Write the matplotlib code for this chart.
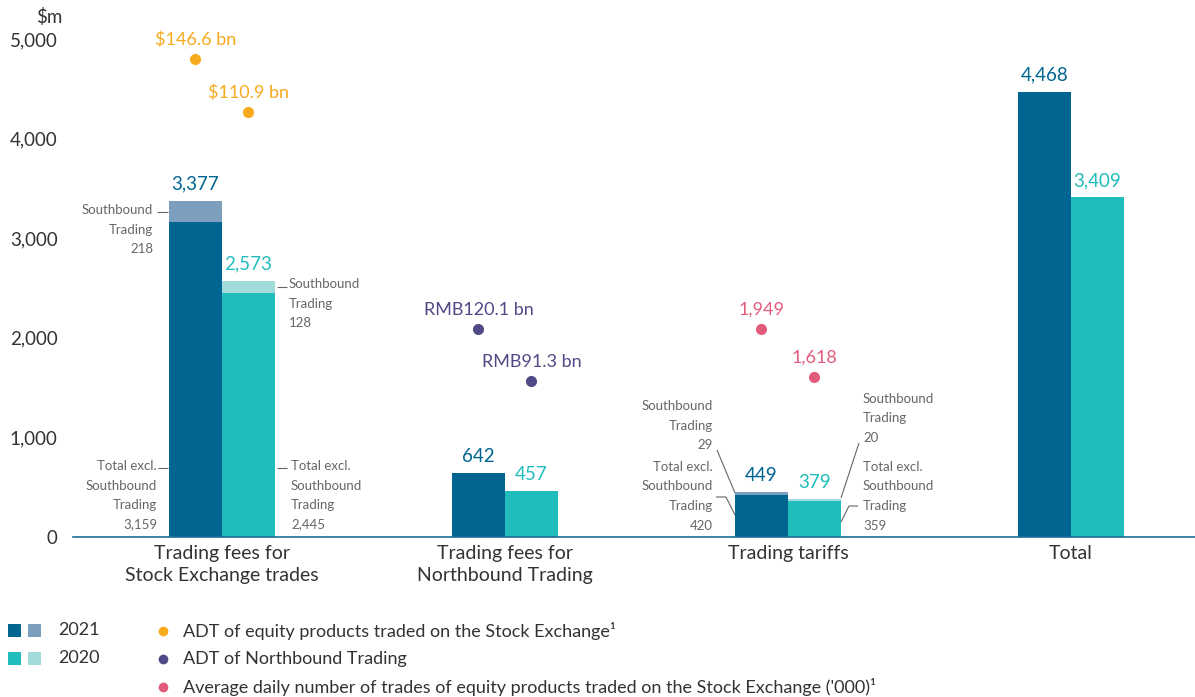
import matplotlib
matplotlib.use('Agg')
import matplotlib.pyplot as plt
from matplotlib import font_manager

# ---- data ----
categories = ['Trading fees for\nStock Exchange trades', 'Trading fees for\nNorthbound Trading',
              'Trading tariffs', 'Total']
base_2021 = [3159, 642, 420, 4468]
south_2021 = [218, 0, 29, 0]
base_2020 = [2445, 457, 359, 3409]
south_2020 = [128, 0, 20, 0]
total_2021 = ['3,377', '642', '449', '4,468']
total_2020 = ['2,573', '457', '379', '3,409']

dot_labels_2021 = ['$146.6 bn', 'RMB120.1 bn', '1,949']
dot_labels_2020 = ['$110.9 bn', 'RMB91.3 bn', '1,618']
dot_height_2021 = [4800, 2090, 2090]
dot_height_2020 = [4265, 1565, 1610]

legend_dots = ['ADT of equity products traded on the Stock Exchange\u00b9',
               'ADT of Northbound Trading',
               "Average daily number of trades of equity products traded on the Stock Exchange ('000)\u00b9"]

yticks = [0, 1000, 2000, 3000, 4000, 5000]

# ---- style ----
names = {f.name for f in font_manager.fontManager.ttflist}
main_font = 'Lato' if 'Lato' in names else 'DejaVu Sans'
narrow_font = 'Liberation Sans Narrow' if 'Liberation Sans Narrow' in names else main_font
plt.rcParams['font.family'] = [main_font, 'DejaVu Sans']

c21 = '#006591'
c21l = '#7c9fbd'
c20 = '#21bdbc'
c20l = '#a3dbdb'
dot_cols = ['#f6aa1c', '#4f4a85', '#e25b7b']
grey = '#666666'
txt = '#333333'

W, H = 1195, 697
fig = plt.figure(figsize=(W / 100, H / 100), dpi=100)
px_per_unit = 0.0996
ytop = 5300
ax = fig.add_axes([73 / W, 160 / H, (1195 - 73) / W, ytop * px_per_unit / H])
ax.set_ylim(0, ytop)
ax.set_xlim(-0.5265, -0.5265 + (1195 - 73) / 283)
bw = 53 / 283

x = list(range(len(categories)))
x21 = [i - bw / 2 for i in x]
x20 = [i + bw / 2 for i in x]
ax.bar(x21, base_2021, bw, color=c21, linewidth=0)
ax.bar(x21, south_2021, bw, bottom=base_2021, color=c21l, linewidth=0)
ax.bar(x20, base_2020, bw, color=c20, linewidth=0)
ax.bar(x20, south_2020, bw, bottom=base_2020, color=c20l, linewidth=0)

for i in x:
    t21 = base_2021[i] + south_2021[i]
    t20 = base_2020[i] + south_2020[i]
    ax.annotate(total_2021[i], (x21[i], t21), xytext=(0, 6), textcoords='offset points',
                ha='center', va='bottom', color=c21, fontsize=13.5)
    ax.annotate(total_2020[i], (x20[i], t20), xytext=(0, 6), textcoords='offset points',
                ha='center', va='bottom', color=c20, fontsize=13.5)

# dots above the bars
for i in range(3):
    ax.plot(x21[i], dot_height_2021[i], 'o', color=dot_cols[i], ms=8, mec='none')
    ax.plot(x20[i], dot_height_2020[i], 'o', color=dot_cols[i], ms=8, mec='none')
    ax.annotate(dot_labels_2021[i], (x21[i], dot_height_2021[i]), xytext=(0, 8),
                textcoords='offset points', ha='center', va='bottom', color=dot_cols[i], fontsize=13)
    ax.annotate(dot_labels_2020[i], (x20[i], dot_height_2020[i]), xytext=(0, 8),
                textcoords='offset points', ha='center', va='bottom', color=dot_cols[i], fontsize=13)

# small grey annotations (positioned in pixels)
def fx(px):
    return -0.5265 + (px - 73) / 283

def fy(py):
    return (537 - py) / px_per_unit

def note(px, py, s, ha):
    ax.text(fx(px), fy(py), s, ha=ha, va='top', fontsize=9.5, color=grey,
            family=narrow_font, linespacing=1.75, multialignment=ha)

def lead(pts):
    ax.plot([fx(p[0]) for p in pts], [fy(p[1]) for p in pts], color=grey, lw=0.8,
            solid_capstyle='butt')

note(153, 204, 'Southbound\nTrading\n%d' % south_2021[0], 'right')
lead([(157, 212), (168, 212)])
note(157, 460, 'Total excl.\nSouthbound\nTrading\n{:,}'.format(base_2021[0]), 'right')
lead([(158, 468), (168, 468)])
note(289, 278, 'Southbound\nTrading\n%d' % south_2020[0], 'left')
lead([(277, 287), (287, 287)])
note(291, 460, 'Total excl.\nSouthbound\nTrading\n{:,}'.format(base_2020[0]), 'left')
lead([(277, 468), (287, 468)])

note(713, 400, 'Southbound\nTrading\n%d' % south_2021[2], 'right')
lead([(717, 450), (735, 493)])
note(713, 461, 'Total excl.\nSouthbound\nTrading\n%d' % base_2021[2], 'right')
lead([(716, 497), (726, 497), (735, 515)])
note(863, 393, 'Southbound\nTrading\n%d' % south_2020[2], 'left')
lead([(859, 443), (841, 498)])
note(863, 461, 'Total excl.\nSouthbound\nTrading\n%d' % base_2020[2], 'left')
lead([(858, 506), (849, 506), (841, 522)])

# axes cosmetics
for s in ['top', 'right', 'left']:
    ax.spines[s].set_visible(False)
ax.spines['bottom'].set_color('#1a6e96')
ax.spines['bottom'].set_linewidth(1.2)
ax.set_yticks(yticks)
ax.set_yticklabels(['{:,}'.format(v) for v in yticks], fontsize=13.5, color=txt)
ax.tick_params(axis='y', length=0, pad=11)
ax.set_xticks(x)
ax.set_xticklabels(categories, fontsize=14, color=txt, linespacing=1.35)
ax.tick_params(axis='x', length=0, pad=6)
fig.text(62 / W, 1 - 17 / H, '$m', ha='right', va='center', fontsize=13.5, color=txt)

# legend
sq = 13
for row, (cd, cl, lab) in enumerate([(c21, c21l, '2021'), (c20, c20l, '2020')]):
    yc = 630 + row * 28
    for x0, c in [(8, cd), (28, cl)]:
        fig.patches.append(plt.Rectangle((x0 / W, 1 - (yc + sq / 2) / H), sq / W, sq / H,
                                         transform=fig.transFigure, color=c, lw=0))
    fig.text(58 / W, 1 - yc / H, lab, ha='left', va='center', fontsize=13, color=txt)

for row, lab in enumerate(legend_dots):
    yc = 631 + row * 28
    fig.lines.append(plt.Line2D([163 / W], [1 - yc / H], marker='o', ms=7, color=dot_cols[row],
                                mec='none', transform=fig.transFigure))
    fig.text(183 / W, 1 - yc / H, lab, ha='left', va='center', fontsize=13, color=txt)

fig.savefig('out.png', dpi=100)
